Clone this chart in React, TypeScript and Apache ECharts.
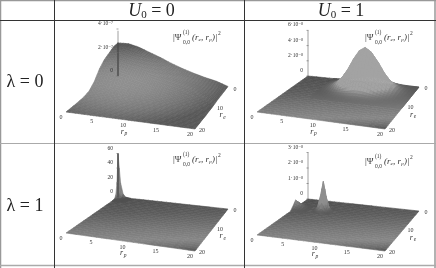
import React, { useEffect, useRef } from "react";
import * as echarts from "echarts";

const headerValues = ["0", "1"];
const rowLabels = ["λ = 0", "λ = 1"];
const floorTicks = [0, 5, 10, 15, 20];
const reTicks = [0, 10, 20];

// heights are in the unit of each panel's z axis (1e-7, 1e-8, 1, 1e-8)
const floorRp = [0, 20];
const floorRe = [0, 20];
const floorZ = [[0, 0], [0, 0]];

const p1Rp = [0, 2, 4, 6, 8, 10, 12, 14, 16, 18, 20];
const p1Re = [0, 2, 4, 6, 8, 10, 12, 14, 16, 18, 20];
const p1Z = [
  [2.81, 2.75, 2.47, 2.19, 1.69, 0.93, 0.42, 0.22, 0.13, 0.06, 0],
  [2.85, 2.79, 2.51, 2.22, 1.71, 0.94, 0.43, 0.23, 0.13, 0.06, 0],
  [2.64, 2.59, 2.32, 2.06, 1.58, 0.87, 0.4, 0.21, 0.12, 0.05, 0],
  [2.3, 2.25, 2.02, 1.79, 1.38, 0.76, 0.35, 0.18, 0.1, 0.05, 0],
  [1.96, 1.92, 1.72, 1.53, 1.18, 0.65, 0.29, 0.16, 0.09, 0.04, 0],
  [1.57, 1.54, 1.38, 1.22, 0.94, 0.52, 0.24, 0.13, 0.07, 0.03, 0],
  [1.23, 1.21, 1.08, 0.96, 0.74, 0.41, 0.18, 0.1, 0.06, 0.02, 0],
  [0.94, 0.92, 0.83, 0.73, 0.56, 0.31, 0.14, 0.08, 0.04, 0.02, 0],
  [0.68, 0.67, 0.6, 0.53, 0.41, 0.22, 0.1, 0.05, 0.03, 0.01, 0],
  [0.47, 0.46, 0.41, 0.37, 0.28, 0.16, 0.07, 0.04, 0.02, 0.01, 0],
  [0.13, 0.12, 0.11, 0.1, 0.08, 0.04, 0.02, 0.01, 0.01, 0, 0],
];

const p2Rp = [5, 6, 7, 8, 9, 10, 11, 12, 13, 14, 15, 16, 17, 18, 19, 20];
const p2Re = [0, 1, 2, 3, 4, 5, 6, 7, 8, 9, 10, 11];
const p2Z = [
  [0.01, 0.02, 0.04, 0.06, 0.07, 0.06, 0.04, 0.02, 0.01, 0, 0, 0],
  [0.03, 0.07, 0.13, 0.18, 0.21, 0.18, 0.13, 0.07, 0.03, 0.01, 0, 0],
  [0.08, 0.19, 0.35, 0.5, 0.57, 0.5, 0.35, 0.19, 0.08, 0.02, 0.01, 0],
  [0.17, 0.42, 0.78, 1.14, 1.29, 1.14, 0.78, 0.42, 0.17, 0.06, 0.01, 0],
  [0.33, 0.79, 1.47, 2.13, 2.42, 2.13, 1.47, 0.79, 0.33, 0.11, 0.03, 0],
  [0.52, 1.25, 2.34, 3.4, 3.85, 3.4, 2.34, 1.25, 0.52, 0.17, 0.04, 0],
  [0.67, 1.63, 3.04, 4.41, 5.0, 4.41, 3.04, 1.63, 0.67, 0.22, 0.05, 0],
  [0.74, 1.79, 3.34, 4.85, 5.5, 4.85, 3.34, 1.79, 0.74, 0.24, 0.06, 0],
  [0.67, 1.63, 3.04, 4.41, 5.0, 4.41, 3.04, 1.63, 0.67, 0.22, 0.05, 0],
  [0.52, 1.25, 2.34, 3.4, 3.85, 3.4, 2.34, 1.25, 0.52, 0.17, 0.04, 0],
  [0.33, 0.79, 1.47, 2.13, 2.42, 2.13, 1.47, 0.79, 0.33, 0.11, 0.03, 0],
  [0.17, 0.42, 0.78, 1.14, 1.29, 1.14, 0.78, 0.42, 0.17, 0.06, 0.01, 0],
  [0.08, 0.19, 0.35, 0.5, 0.57, 0.5, 0.35, 0.19, 0.08, 0.02, 0.01, 0],
  [0.03, 0.07, 0.13, 0.18, 0.21, 0.18, 0.13, 0.07, 0.03, 0.01, 0, 0],
  [0.01, 0.02, 0.04, 0.06, 0.07, 0.06, 0.04, 0.02, 0.01, 0, 0, 0],
  [0, 0, 0, 0, 0, 0, 0, 0, 0, 0, 0, 0],
];

const p3Rp = [0, 0.25, 0.5, 1, 1.5, 2.5];
const p3Re = [0, 0.25, 0.5, 1, 1.5, 2.5];
const p3Z = [
  [60, 40, 20, 5, 1, 0],
  [40, 26, 13, 3, 0.6, 0],
  [20, 13, 6, 1.5, 0.3, 0],
  [5, 3, 1.5, 0.4, 0.1, 0],
  [1, 0.6, 0.3, 0.1, 0, 0],
  [0, 0, 0, 0, 0, 0],
];

const p4SmallRp = [0, 0.75, 1.5, 2.5];
const p4SmallRe = [3.5, 4.5, 5.5, 6.5, 7.5];
const p4SmallZ = [
  [0.02, 0.25, 0.5, 0.25, 0.02],
  [0.01, 0.16, 0.33, 0.16, 0.01],
  [0, 0.04, 0.09, 0.04, 0],
  [0, 0, 0, 0, 0],
];
const p4MainRp = [3.5, 4, 4.5, 5, 5.5, 6, 6.5];
const p4MainRe = [4, 4.5, 5, 5.5, 6, 6.5, 7];
const p4MainZ = [
  [0, 0, 0.02, 0.04, 0.02, 0, 0],
  [0, 0.03, 0.11, 0.23, 0.11, 0.03, 0],
  [0.02, 0.11, 0.48, 0.95, 0.48, 0.11, 0.02],
  [0.04, 0.23, 0.95, 1.9, 0.95, 0.23, 0.04],
  [0.02, 0.11, 0.48, 0.95, 0.48, 0.11, 0.02],
  [0, 0.03, 0.11, 0.23, 0.11, 0.03, 0],
  [0, 0, 0.02, 0.04, 0.02, 0, 0],
];

type Pt = [number, number];
interface Patch { rp: number[]; re: number[]; z: number[][]; sub: number }
interface Panel {
  back: Pt; right: Pt; bottom: Pt; left: Pt;
  zScale: number; zTop: number; zDarkTo: number;
  zTicks: number[]; zLabels: string[];
  patches: Patch[];
  shade: "radial" | "floor";
  topL: number; zKnee: number;
  formula: Pt;
  sup: string;
}

const panels: Panel[] = [
  {
    back: [118, 76], right: [228, 88], bottom: [195, 129], left: [66, 112],
    zScale: 11.75, zTop: 3.85, zDarkTo: 2.85,
    zTicks: [0, 2, 4], zLabels: ["0", "2·10⁻⁷", "4·10⁻⁷"],
    patches: [{ rp: p1Rp, re: p1Re, z: p1Z, sub: 4 }],
    shade: "radial", topL: 0.55, zKnee: 1, formula: [173, 37], sup: "(1)",
  },
  {
    back: [308, 76], right: [419, 87], bottom: [385, 129], left: [257, 112],
    zScale: 7.6, zTop: 6, zDarkTo: 0,
    zTicks: [0, 2, 4, 6], zLabels: ["0", "2·10⁻⁸", "4·10⁻⁸", "6·10⁻⁸"],
    patches: [
      { rp: floorRp, re: floorRe, z: floorZ, sub: 24 },
      { rp: p2Rp, re: p2Re, z: p2Z, sub: 2 },
    ],
    shade: "floor", topL: 0.64, zKnee: 0.8, formula: [365, 37], sup: "(1)",
  },
  {
    back: [118, 197], right: [228, 209], bottom: [195, 251], left: [66, 233],
    zScale: 0.725, zTop: 60, zDarkTo: 60,
    zTicks: [0, 20, 40, 60], zLabels: ["0", "20", "40", "60"],
    patches: [
      { rp: floorRp, re: floorRe, z: floorZ, sub: 24 },
      { rp: p3Rp, re: p3Re, z: p3Z, sub: 1 },
    ],
    shade: "floor", topL: 0.5, zKnee: 4, formula: [173, 159], sup: "(1)",
  },
  {
    back: [308, 199], right: [419, 211], bottom: [385, 251], left: [257, 235],
    zScale: 15.5, zTop: 3, zDarkTo: 0,
    zTicks: [0, 1, 2, 3], zLabels: ["0", "1·10⁻⁸", "2·10⁻⁸", "3·10⁻⁸"],
    patches: [
      { rp: floorRp, re: floorRe, z: floorZ, sub: 24 },
      { rp: p4SmallRp, re: p4SmallRe, z: p4SmallZ, sub: 2 },
      { rp: p4MainRp, re: p4MainRe, z: p4MainZ, sub: 2 },
    ],
    shade: "floor", topL: 0.56, zKnee: 0.5, formula: [365, 161], sup: "(1)",
  },
];

const SERIF = "'Liberation Serif', 'DejaVu Serif', serif";

// projective map of the unit square onto the floor quadrilateral
function makeFloorMap(p: Panel) {
  const [x0, y0] = p.back, [x1, y1] = p.right, [x2, y2] = p.bottom, [x3, y3] = p.left;
  const sx = x0 - x1 + x2 - x3, sy = y0 - y1 + y2 - y3;
  const dx1 = x1 - x2, dx2 = x3 - x2, dy1 = y1 - y2, dy2 = y3 - y2;
  const den = dx1 * dy2 - dx2 * dy1;
  const g = (sx * dy2 - dx2 * sy) / den, h = (dx1 * sy - sx * dy1) / den;
  const a = x1 - x0 + g * x1, b = x3 - x0 + h * x3, d = y1 - y0 + g * y1, e = y3 - y0 + h * y3;
  return (rp: number, re: number, z: number): Pt => {
    const u = rp / 20, v = re / 20, w = g * u + h * v + 1;
    return [(a * u + b * v + x0) / w, (d * u + e * v + y0) / w - z * p.zScale];
  };
}
const maps = panels.map(makeFloorMap);

const floorStops: Pt[] = [[0, 0.3], [0.3, 0.36], [0.6, 0.47], [0.8, 0.53], [0.93, 0.43], [1, 0.33]];
function floorL(t: number) {
  for (let i = 1; i < floorStops.length; i++) {
    if (t <= floorStops[i][0]) {
      const [a, la] = floorStops[i - 1], [b, lb] = floorStops[i];
      return la + ((lb - la) * (t - a)) / (b - a);
    }
  }
  return floorStops[floorStops.length - 1][1];
}
function grey(l: number) {
  const c = Math.round(Math.max(0, Math.min(1, l)) * 255);
  return `rgb(${c},${c},${c})`;
}
function colorAt(pi: number, rp: number, re: number, z: number) {
  const p = panels[pi];
  const m = maps[pi];
  const [, fy] = m(rp, re, 0);
  const t = (fy - p.back[1]) / (p.bottom[1] - p.back[1]);
  if (p.shade === "radial") {
    const [sx, sy] = m(rp, re, z);
    const dx = (sx - 125) / 110, dy = (sy - 82) / (sy < 82 ? 38 : 45);
    return grey(Math.max(0.34, 0.56 - 0.24 * (dx * dx + dy * dy)));
  }
  const f = floorL(t);
  return grey(f + (p.topL - f) * Math.min(1, z / p.zKnee));
}

function patchSeries(pi: number, patch: Patch) {
  const data: number[][] = [];
  for (let i = 0; i < patch.rp.length - 1; i++)
    for (let j = 0; j < patch.re.length - 1; j++) data.push([i, j]);
  data.sort((a, b) => a[0] + a[1] - b[0] - b[1]);
  return {
    type: "custom",
    silent: true,
    clip: false,
    coordinateSystem: "cartesian2d",
    data,
    renderItem: (_: any, api: any) => {
      const i = api.value(0), j = api.value(1);
      const s = patch.sub;
      const children: any[] = [];
      const r0 = patch.rp[i], r1 = patch.rp[i + 1], e0 = patch.re[j], e1 = patch.re[j + 1];
      const z = patch.z;
      const at = (a: number, b: number): [number, number, number] => {
        const ua = a / s, vb = b / s;
        return [
          r0 + (r1 - r0) * ua,
          e0 + (e1 - e0) * vb,
          z[i][j] * (1 - ua) * (1 - vb) + z[i + 1][j] * ua * (1 - vb) + z[i][j + 1] * (1 - ua) * vb + z[i + 1][j + 1] * ua * vb,
        ];
      };
      for (let a = 0; a < s; a++) {
        for (let b = 0; b < s; b++) {
          const corners = [at(a, b), at(a + 1, b), at(a + 1, b + 1), at(a, b + 1)];
          const points = corners.map((c) => api.coord(maps[pi](c[0], c[1], c[2])));
          const mid = at(a + 0.5, b + 0.5);
          const fill = colorAt(pi, mid[0], mid[1], mid[2]);
          children.push({ type: "polygon", shape: { points }, style: { fill, stroke: fill, lineWidth: 0.6 } });
        }
      }
      return { type: "group", children };
    },
  };
}

interface Lbl { x: number; y: number; text: string; size: number; italic?: boolean; align?: string; fill?: string }
function labelSeries(items: Lbl[]) {
  return {
    type: "custom",
    silent: true,
    clip: false,
    coordinateSystem: "cartesian2d",
    data: items.map((l) => [l.x, l.y]),
    renderItem: (params: any, api: any) => {
      const l = items[params.dataIndex];
      const [x, y] = api.coord([api.value(0), api.value(1)]);
      return {
        type: "text",
        x, y,
        style: {
          text: l.text, fontSize: l.size, fontFamily: SERIF,
          fontStyle: l.italic ? "italic" : "normal",
          fill: l.fill || "#333", align: l.align || "center", verticalAlign: "middle",
        },
      };
    },
  };
}

function axisSeries(segments: { a: Pt; b: Pt; color: string; w: number }[]) {
  return {
    type: "custom",
    silent: true,
    clip: false,
    coordinateSystem: "cartesian2d",
    data: segments.map((s) => [s.a[0], s.a[1], s.b[0], s.b[1]]),
    renderItem: (params: any, api: any) => {
      const s = segments[params.dataIndex];
      const p1 = api.coord([api.value(0), api.value(1)]);
      const p2 = api.coord([api.value(2), api.value(3)]);
      return {
        type: "line",
        shape: { x1: p1[0], y1: p1[1], x2: p2[0], y2: p2[1] },
        style: { stroke: s.color, lineWidth: s.w },
      };
    },
  };
}

function buildSeries() {
  const series: any[] = [];
  panels.forEach((p, pi) => {
    const m = maps[pi];
    p.patches.forEach((patch) => series.push(patchSeries(pi, patch)));
    const lbls: Lbl[] = [];
    floorTicks.forEach((t) => {
      const [x, y] = m(t, 20, 0);
      lbls.push({ x: x - 5, y: y + 5, text: String(t), size: 6 });
    });
    reTicks.forEach((t) => {
      const [x, y] = m(20, t, 0);
      lbls.push({ x: x + 7, y: y + 1, text: String(t), size: 6 });
    });
    const [nx, ny] = m(10, 20, 0);
    lbls.push({ x: nx - 6, y: ny + 11, text: "r", size: 8, italic: true });
    lbls.push({ x: nx - 2.5, y: ny + 13, text: "p", size: 5.5, italic: true });
    const [ex, ey] = m(20, 10, 0);
    lbls.push({ x: ex + 8, y: ey + 8, text: "r", size: 8, italic: true });
    lbls.push({ x: ex + 11.5, y: ey + 10, text: "e", size: 5.5, italic: true });
    p.zTicks.forEach((t, k) => {
      const [x, y] = m(0, 0, t);
      lbls.push({ x: x - 5, y: y - 6, text: p.zLabels[k], size: 5.5, align: "right" });
    });
    const [fx, fy] = p.formula;
    lbls.push({ x: fx, y: fy, text: "|Ψ", size: 9, align: "left" });
    lbls.push({ x: fx + 10, y: fy - 5, text: p.sup, size: 5.5, align: "left" });
    lbls.push({ x: fx + 10, y: fy + 5, text: "0,0", size: 5.5, align: "left" });
    lbls.push({ x: fx + 19, y: fy, text: "(r", size: 9, align: "left", italic: true });
    lbls.push({ x: fx + 25.6, y: fy + 2, text: "e", size: 5, align: "left", italic: true });
    lbls.push({ x: fx + 28, y: fy, text: ", r", size: 9, align: "left", italic: true });
    lbls.push({ x: fx + 36.2, y: fy + 2, text: "p", size: 5, align: "left", italic: true });
    lbls.push({ x: fx + 39, y: fy, text: ")|", size: 9, align: "left", italic: true });
    lbls.push({ x: fx + 45, y: fy - 4, text: "2", size: 5.5, align: "left" });
    series.push(labelSeries(lbls));

    const base = m(0, 0, 0), top = m(0, 0, p.zTop);
    const segs: { a: Pt; b: Pt; color: string; w: number }[] = [
      { a: base, b: top, color: "#888", w: 0.8 },
    ];
    if (p.zDarkTo > 0) segs.push({ a: base, b: m(0, 0, p.zDarkTo), color: "#3a3a3a", w: 1.1 });
    p.zTicks.forEach((t) => {
      const q = m(0, 0, t);
      segs.push({ a: [q[0] - 1.5, q[1]], b: [q[0] + 0.5, q[1]], color: "#666", w: 0.6 });
    });
    series.push(axisSeries(segs));
  });
  return series;
}

function tableGraphic() {
  const line = (x1: number, y1: number, x2: number, y2: number, stroke: string, w: number) => ({
    type: "line", shape: { x1, y1, x2, y2 }, style: { stroke, lineWidth: w }, silent: true,
  });
  const text = (x: number, y: number, t: string) => ({
    type: "text", x, y, silent: true,
    style: {
      text: t, fontSize: 18, fontFamily: SERIF,
      fill: "#222", align: "center", verticalAlign: "middle",
    },
  });
  const header = (x: number, value: string) => ({
    type: "text", x, y: 10, silent: true,
    style: {
      text: `{u|U}{s|0}{r| = ${value}}`,
      fill: "#222", align: "center", verticalAlign: "middle",
      rich: {
        u: { fontSize: 18, fontStyle: "italic", fontFamily: SERIF, fill: "#222" },
        s: { fontSize: 11, fontFamily: SERIF, fill: "#222", verticalAlign: "bottom" },
        r: { fontSize: 18, fontFamily: SERIF, fill: "#222" },
      },
    },
  });
  return [
    line(0, 0.5, 436, 0.5, "#999", 1.5),
    line(0.5, 0, 0.5, 268, "#999", 1.5),
    line(435, 0, 435, 268, "#999", 1.5),
    line(0, 265.5, 436, 265.5, "#aaa", 1.5),
    line(0, 143.5, 436, 143.5, "#aaa", 1.2),
    line(0, 20.5, 436, 20.5, "#333", 1),
    line(54.5, 0, 54.5, 268, "#333", 1),
    line(244.5, 0, 244.5, 268, "#333", 1),
    header(151.5, headerValues[0]),
    header(341, headerValues[1]),
    text(25, 81, rowLabels[0]),
    text(25, 205, rowLabels[1]),
  ];
}

export default function App() {
  const ref = useRef<HTMLDivElement>(null);
  useEffect(() => {
    const chart = echarts.init(ref.current!, undefined, { renderer: "svg" });
    chart.setOption({
      animation: false,
      backgroundColor: "#fff",
      grid: { left: 0, right: 0, top: 0, bottom: 0 },
      xAxis: { type: "value", min: 0, max: 436, show: false },
      yAxis: { type: "value", min: 0, max: 268, inverse: true, show: false },
      series: buildSeries(),
      graphic: tableGraphic(),
    });
    return () => chart.dispose();
  }, []);
  return (
    <div
      ref={ref}
      style={{ position: "absolute", left: 0, top: 0, width: 436, height: 268, filter: "blur(0.35px)" }}
    />
  );
}
